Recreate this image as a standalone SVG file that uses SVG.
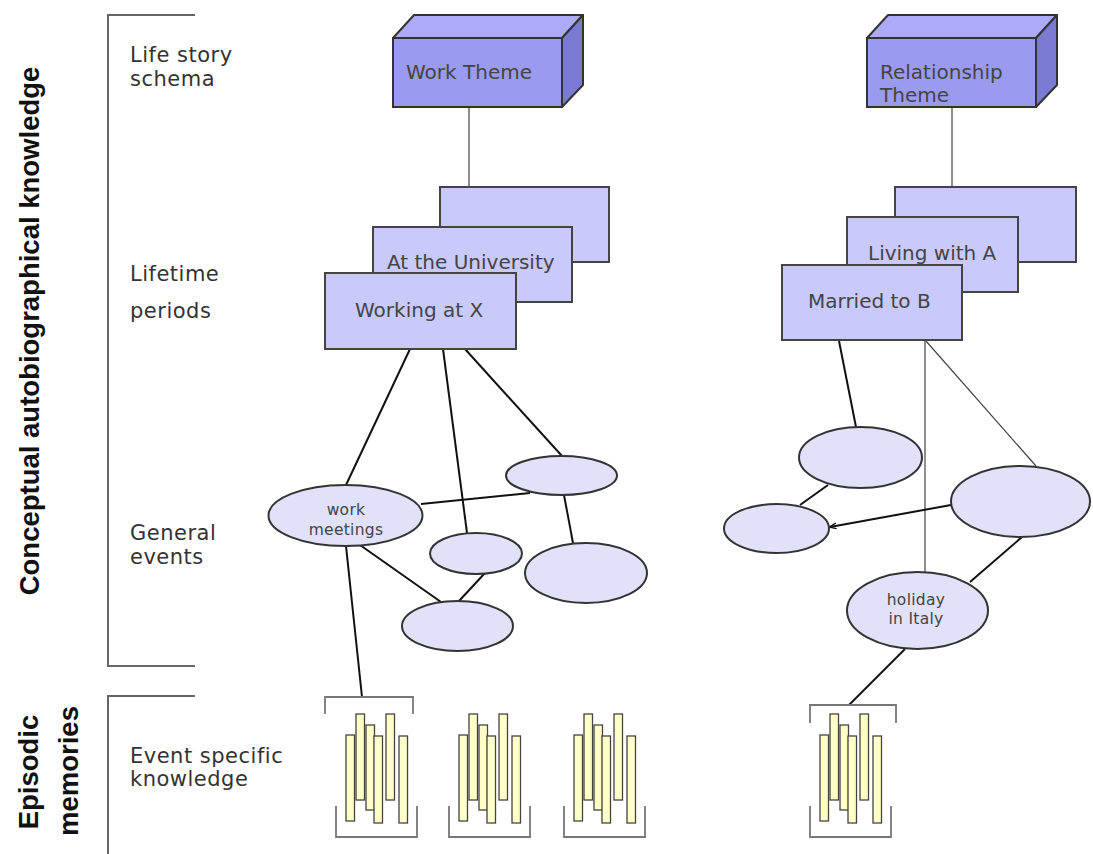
<svg xmlns="http://www.w3.org/2000/svg" width="1093" height="854" viewBox="0 0 1093 854">
<style>
.lbl{font-family:"DejaVu Sans","Verdana",sans-serif;font-size:21px;fill:#333;letter-spacing:0.5px}
.side{font-family:"Liberation Sans",Arial,sans-serif;font-weight:bold;font-size:27.5px;fill:#111;text-anchor:middle}
.bt{font-family:"DejaVu Sans",sans-serif;font-size:20px;fill:#444}
.et{font-family:"DejaVu Sans",sans-serif;font-size:15.5px;fill:#444;letter-spacing:0.3px;text-anchor:middle}
.brk{fill:none;stroke:#666;stroke-width:2}
.front{fill:#9a9aef;stroke:#333;stroke-width:2}
.top{fill:#ababf7;stroke:#333;stroke-width:2;stroke-linejoin:round}
.sideface{fill:#7a7ad2;stroke:#333;stroke-width:2;stroke-linejoin:round}
.period{fill:#c9c9fb;stroke:#444;stroke-width:2}
.ev{fill:#e1e1fa;stroke:#333;stroke-width:2}
.bar{fill:#ffffc8;stroke:#444;stroke-width:1.3}
.esb{fill:none;stroke:#777;stroke-width:1.8}
.c{stroke:#111;stroke-width:2;fill:none}
.thin{stroke:#444;stroke-width:1.2;fill:none}
</style>
<defs>
<marker id="arr" viewBox="0 0 10 10" refX="9" refY="5" markerWidth="7" markerHeight="7" orient="auto" markerUnits="userSpaceOnUse">
<path d="M0,1 L10,5 L0,9" fill="none" stroke="#111" stroke-width="2"/>
</marker>
<g id="esk">
<rect class="bar" x="0" y="21" width="8.5" height="86"/>
<rect class="bar" x="10" y="0" width="8.5" height="86"/>
<rect class="bar" x="20" y="11" width="8.5" height="85"/>
<rect class="bar" x="28" y="22" width="8.5" height="87"/>
<rect class="bar" x="40" y="0" width="8.5" height="86"/>
<rect class="bar" x="53" y="22" width="8.5" height="87"/>
<path class="esb" d="M-10,92 V123 H71 V92"/>
</g>
</defs>

<g id="levels">
<path class="brk" d="M195,15 H108 V666 H195"/>
<path class="brk" d="M195,696 H108 V854"/>
<text class="side" transform="translate(39,331) rotate(-90)">Conceptual autobiographical knowledge</text>
<text class="side" transform="translate(38,772) rotate(-90)">Episodic</text>
<text class="side" transform="translate(78,771) rotate(-90)">memories</text>
<text class="lbl" x="130" y="62">Life story</text>
<text class="lbl" x="130" y="86">schema</text>
<text class="lbl" x="130" y="281">Lifetime</text>
<text class="lbl" x="130" y="318">periods</text>
<text class="lbl" x="130" y="540">General</text>
<text class="lbl" x="130" y="564">events</text>
<text class="lbl" x="130" y="763">Event specific</text>
<text class="lbl" x="130" y="786">knowledge</text>
</g>

<g id="connectors">
<line class="thin" x1="469" y1="107" x2="469" y2="187"/>
<line class="thin" x1="952" y1="107" x2="952" y2="187"/>
<line class="c" x1="410" y1="349" x2="346" y2="485"/>
<line class="c" x1="443" y1="349" x2="467" y2="533"/>
<line class="c" x1="465" y1="349" x2="562" y2="456"/>
<line class="c" x1="421" y1="504" x2="530" y2="493"/>
<line class="c" x1="564" y1="495" x2="573" y2="543"/>
<line class="c" x1="360" y1="545" x2="441" y2="602"/>
<line class="c" x1="485" y1="573" x2="459" y2="601"/>
<line class="c" x1="346" y1="546" x2="362" y2="697"/>
<line class="c" x1="839" y1="341" x2="856" y2="427"/>
<line class="thin" x1="925" y1="341" x2="925" y2="572"/>
<line class="thin" x1="926" y1="341" x2="1036" y2="466"/>
<line class="c" x1="828" y1="485" x2="800" y2="505"/>
<line class="c" x1="951" y1="505" x2="830" y2="527" marker-end="url(#arr)"/>
<line class="c" x1="1022" y1="537" x2="970" y2="582"/>
<line class="c" x1="905" y1="649" x2="849" y2="705"/>
</g>

<g id="work-theme">
<path class="top" d="M393,38 L414,15 H583 L562,38 Z"/>
<path class="sideface" d="M562,38 L583,15 V85 L562,107 Z"/>
<rect class="front" x="393" y="38" width="169" height="69"/>
<text class="bt" x="406" y="79">Work Theme</text>
</g>

<g id="relationship-theme">
<path class="top" d="M867,38 L888,15 H1057 L1036,38 Z"/>
<path class="sideface" d="M1036,38 L1057,15 V85 L1036,107 Z"/>
<rect class="front" x="867" y="38" width="169" height="69"/>
<text class="bt" x="880" y="79">Relationship</text>
<text class="bt" x="880" y="102">Theme</text>
</g>

<g id="period-back-left"><rect class="period" x="440" y="187" width="169" height="75"/></g>
<g id="at-the-university">
<rect class="period" x="373" y="227" width="199" height="75"/>
<text class="bt" x="387" y="269">At the University</text>
</g>
<g id="working-at-x">
<rect class="period" x="325" y="273" width="191" height="76"/>
<text class="bt" x="355" y="317">Working at X</text>
</g>

<g id="period-back-right"><rect class="period" x="895" y="187" width="181" height="75"/></g>
<g id="living-with-a">
<rect class="period" x="847" y="217" width="171" height="75"/>
<text class="bt" x="868" y="260">Living with A</text>
</g>
<g id="married-to-b">
<rect class="period" x="782" y="265" width="180" height="75"/>
<text class="bt" x="808" y="308">Married to B</text>
</g>

<g id="work-meetings">
<ellipse class="ev" cx="345.5" cy="515.5" rx="77" ry="30.5"/>
<text class="et" x="346" y="515">work</text>
<text class="et" x="346" y="535">meetings</text>
</g>
<g id="ev-l2"><ellipse class="ev" cx="561.5" cy="475.5" rx="55.5" ry="19.5"/></g>
<g id="ev-l3"><ellipse class="ev" cx="476" cy="553.5" rx="46" ry="20.5"/></g>
<g id="ev-l4"><ellipse class="ev" cx="586" cy="573" rx="61" ry="30"/></g>
<g id="ev-l5"><ellipse class="ev" cx="457.5" cy="626" rx="55.5" ry="25"/></g>

<g id="ev-r1"><ellipse class="ev" cx="860.5" cy="457.5" rx="61.5" ry="30.5"/></g>
<g id="ev-r2"><ellipse class="ev" cx="776.5" cy="528.5" rx="52.5" ry="24.5"/></g>
<g id="ev-r3"><ellipse class="ev" cx="1020.5" cy="501.5" rx="69.5" ry="35.5"/></g>
<g id="holiday-in-italy">
<ellipse class="ev" cx="917.5" cy="610.5" rx="70.5" ry="38.5"/>
<text class="et" x="916" y="605">holiday</text>
<text class="et" x="916" y="624">in Italy</text>
</g>

<g id="esk-1">
<path class="esb" d="M325,714 V697 H413 V714"/>
<use href="#esk" x="346" y="714"/>
</g>
<g id="esk-2"><use href="#esk" x="459" y="714"/></g>
<g id="esk-3"><use href="#esk" x="574" y="714"/></g>
<g id="esk-4">
<path class="esb" d="M810,723 V705 H896 V723"/>
<use href="#esk" x="820" y="714"/>
</g>
</svg>
